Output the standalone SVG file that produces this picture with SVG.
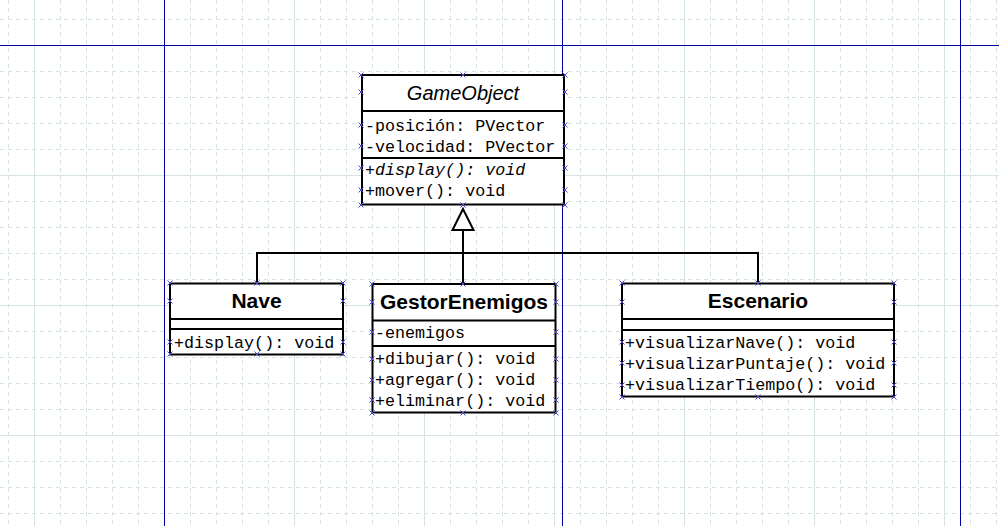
<svg xmlns="http://www.w3.org/2000/svg" xmlns:xlink="http://www.w3.org/1999/xlink" width="999" height="526" viewBox="0 0 999 526">
<style>
.grid-d{fill:none;stroke:#d5e4df;stroke-width:1;stroke-dasharray:4 4}
.grid-s{fill:none;stroke:#d5e4df;stroke-width:1}
.guide{fill:none;stroke:#0000a0;stroke-width:1}
.box{fill:#fff;stroke:#000;stroke-width:2}
.sep{stroke:#000;stroke-width:2}
.edge{fill:none;stroke:#000;stroke-width:2}
.tri{fill:#fff;stroke:#000;stroke-width:2}
.name{font-family:"Liberation Sans",Arial,sans-serif;font-size:21px;font-weight:bold;text-anchor:middle;fill:#000}
.iname{font-family:"Liberation Sans",Arial,sans-serif;font-size:20px;font-style:italic;text-anchor:middle;fill:#000}
.m{font-family:"Liberation Mono","Courier New",monospace;font-size:16.7px;fill:#000}
.mi{font-style:italic}
.hx{fill:none;stroke:#4848d0;stroke-width:1}
</style>
<defs>
<symbol id="h" overflow="visible"><path class="hx" d="M-2.5 -2.5L2.5 2.5M-2.5 2.5L2.5 -2.5"/></symbol>
</defs>
<rect width="999" height="526" fill="#fff"/>
<g id="grid">
<path class="grid-d" d="M8.5 0V526M60.5 0V526M86.5 0V526M112.5 0V526M138.5 0V526M190.5 0V526M216.5 0V526M242.5 0V526M268.5 0V526M320.5 0V526M346.5 0V526M372.5 0V526M398.5 0V526M450.5 0V526M476.5 0V526M502.5 0V526M528.5 0V526M580.5 0V526M606.5 0V526M632.5 0V526M658.5 0V526M710.5 0V526M736.5 0V526M762.5 0V526M788.5 0V526M840.5 0V526M866.5 0V526M892.5 0V526M918.5 0V526M970.5 0V526M996.5 0V526"/>
<path class="grid-d" d="M0 19.5H999M0 71.5H999M0 97.5H999M0 123.5H999M0 149.5H999M0 201.5H999M0 227.5H999M0 253.5H999M0 279.5H999M0 331.5H999M0 357.5H999M0 383.5H999M0 409.5H999M0 461.5H999M0 487.5H999M0 513.5H999"/>
<path class="grid-s" d="M34.5 0V526M164.5 0V526M294.5 0V526M424.5 0V526M554.5 0V526M684.5 0V526M814.5 0V526M944.5 0V526M0 45.5H999M0 175.5H999M0 305.5H999M0 435.5H999"/>
<path class="guide" d="M164.5 0V526M562.5 0V526M960.5 0V526M0 45.5H999"/>
</g>
<g id="connectors">
<path class="edge" d="M257 253H758M257 252V283.5M758 252V283.5M463 230V284"/>
<polygon class="tri" points="463,209 452.5,230 473.5,230"/>
</g>
<g id="GameObject">
<rect class="box" x="362" y="75" width="202" height="129.5"/>
<line class="sep" x1="362" y1="111" x2="564" y2="111"/>
<line class="sep" x1="362" y1="158" x2="564" y2="158"/>
<text class="iname" x="463" y="100">GameObject</text>
<text class="m" x="365" y="130.5">-posición: PVector</text>
<text class="m" x="365" y="151.5">-velocidad: PVector</text>
<text class="m mi" x="365" y="174.5">+display(): void</text>
<text class="m" x="365" y="196">+mover(): void</text>
</g>
<g id="Nave">
<rect class="box" x="170" y="283.5" width="173" height="71"/>
<line class="sep" x1="170" y1="319" x2="343" y2="319"/>
<line class="sep" x1="170" y1="329" x2="343" y2="329"/>
<text class="name" x="256.5" y="307.5">Nave</text>
<text class="m" x="174" y="348">+display(): void</text>
</g>
<g id="GestorEnemigos">
<rect class="box" x="372.5" y="284" width="183" height="128.5"/>
<line class="sep" x1="372.5" y1="320.5" x2="555.5" y2="320.5"/>
<line class="sep" x1="372.5" y1="346" x2="555.5" y2="346"/>
<text class="name" x="464" y="309">GestorEnemigos</text>
<text class="m" x="375" y="337.5">-enemigos</text>
<text class="m" x="375" y="364">+dibujar(): void</text>
<text class="m" x="375" y="385">+agregar(): void</text>
<text class="m" x="375" y="405.5">+eliminar(): void</text>
</g>
<g id="Escenario">
<rect class="box" x="622" y="283.5" width="272" height="113"/>
<line class="sep" x1="622" y1="319" x2="894" y2="319"/>
<line class="sep" x1="622" y1="330" x2="894" y2="330"/>
<text class="name" x="758" y="307.5">Escenario</text>
<text class="m" x="625" y="347.5">+visualizarNave(): void</text>
<text class="m" x="625" y="368.5">+visualizarPuntaje(): void</text>
<text class="m" x="625" y="389.5">+visualizarTiempo(): void</text>
</g>
<g id="handles">
<use xlink:href="#h" x="361" y="75"/><use xlink:href="#h" x="463" y="75"/><use xlink:href="#h" x="565" y="75"/>
<use xlink:href="#h" x="361" y="205"/><use xlink:href="#h" x="463" y="205"/><use xlink:href="#h" x="565" y="205"/>
<use xlink:href="#h" x="361" y="92"/><use xlink:href="#h" x="361" y="125"/><use xlink:href="#h" x="361" y="146"/><use xlink:href="#h" x="361" y="168"/><use xlink:href="#h" x="361" y="190"/>
<use xlink:href="#h" x="565" y="92"/><use xlink:href="#h" x="565" y="125"/><use xlink:href="#h" x="565" y="146"/><use xlink:href="#h" x="565" y="168"/><use xlink:href="#h" x="565" y="190"/>
<use xlink:href="#h" x="170" y="283"/><use xlink:href="#h" x="257" y="283"/><use xlink:href="#h" x="343" y="283"/>
<use xlink:href="#h" x="170" y="354"/><use xlink:href="#h" x="257" y="354"/><use xlink:href="#h" x="343" y="354"/>
<use xlink:href="#h" x="170" y="301"/><use xlink:href="#h" x="170" y="342"/><use xlink:href="#h" x="343" y="301"/><use xlink:href="#h" x="343" y="342"/>
<use xlink:href="#h" x="372" y="284"/><use xlink:href="#h" x="463" y="284"/><use xlink:href="#h" x="556" y="284"/>
<use xlink:href="#h" x="372" y="413"/><use xlink:href="#h" x="463" y="413"/><use xlink:href="#h" x="556" y="413"/>
<use xlink:href="#h" x="372" y="302"/><use xlink:href="#h" x="372" y="332"/><use xlink:href="#h" x="372" y="359"/><use xlink:href="#h" x="372" y="380"/><use xlink:href="#h" x="372" y="400"/>
<use xlink:href="#h" x="556" y="302"/><use xlink:href="#h" x="556" y="332"/><use xlink:href="#h" x="556" y="359"/><use xlink:href="#h" x="556" y="380"/><use xlink:href="#h" x="556" y="400"/>
<use xlink:href="#h" x="622" y="283"/><use xlink:href="#h" x="758" y="283"/><use xlink:href="#h" x="894" y="283"/>
<use xlink:href="#h" x="622" y="397"/><use xlink:href="#h" x="758" y="397"/><use xlink:href="#h" x="894" y="397"/>
<use xlink:href="#h" x="622" y="302"/><use xlink:href="#h" x="622" y="342"/><use xlink:href="#h" x="622" y="363"/><use xlink:href="#h" x="622" y="385"/>
<use xlink:href="#h" x="894" y="302"/><use xlink:href="#h" x="894" y="342"/><use xlink:href="#h" x="894" y="363"/><use xlink:href="#h" x="894" y="385"/>
</g>
</svg>
